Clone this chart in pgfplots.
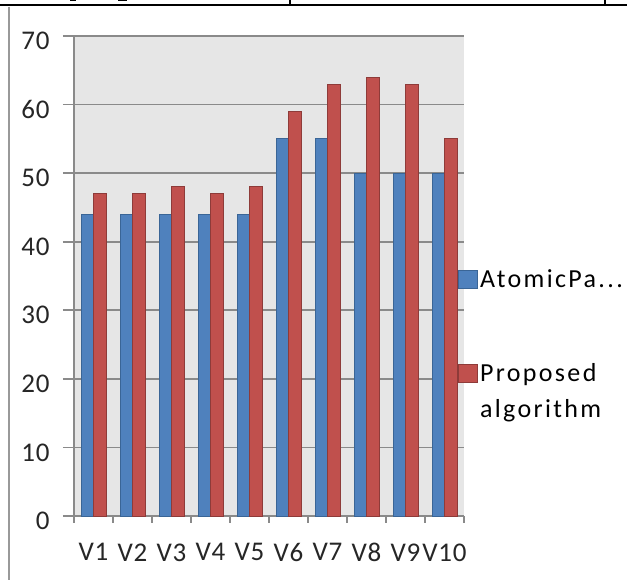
\documentclass[border=0pt]{standalone}
\usepackage{fontspec}
\setmainfont{Carlito}
\newfontfamily\legfont{Carlito}[LetterSpace=9]
\newfontfamily\tickfont{Carlito}[LetterSpace=3]
\usepackage{pgfplots}
\pgfplotsset{compat=1.18}
\definecolor{xlblue}{HTML}{4F81BD}
\definecolor{xlblueedge}{HTML}{3A6596}
\definecolor{xlred}{HTML}{C0504D}
\definecolor{xlrededge}{HTML}{8E3B39}
\definecolor{plotbg}{HTML}{E6E6E6}
\definecolor{gridgray}{HTML}{8A8A8A}
\pgfplotsset{
  legA/.style={legend image code/.code={\draw[fill=xlblue, draw=xlblueedge, line width=0.8pt] (0pt,-9pt) rectangle (19pt,9pt);}},
  legB/.style={legend image code/.code={\draw[fill=xlred, draw=xlrededge, line width=0.8pt] (0pt,9pt) rectangle (19pt,27pt);}},
}
\begin{document}
\begin{tikzpicture}[x=1pt,y=1pt]
\useasboundingbox (0,0) rectangle (627,583);
% page/table border fragments
\draw[line width=2.2pt] (0,578) -- (627,578);
\draw[line width=1.6pt] (290,578) -- (290,583);
\draw[line width=1.6pt] (605,578) -- (605,583);
\draw[line width=1.6pt] (70,582.5) -- (76,582.5);
\draw[line width=1.6pt] (118,582.5) -- (127,582.5);
\draw[gray!80, line width=1.4pt] (9,576) -- (9,3);
\begin{axis}[
  at={(74pt,67pt)}, anchor=south west,
  scale only axis, width=390pt, height=480pt,
  ymin=0, ymax=70, ytick={0,10,...,70},
  xmin=0.5, xmax=10.5,
  xtick={1,...,10},
  xticklabels={V1,V2,V3,V4,V5,V6,V7,V8,V9,V10},
  minor xtick={0.5,1.5,...,10.5},
  axis x line*=bottom, axis y line*=left,
  axis line style={gridgray, line width=1.6pt, -},
  axis background/.style={fill=plotbg},
  ymajorgrids, grid style={gridgray, line width=1.6pt},
  tick align=outside,
  major tick length=11pt, minor tick length=7pt,
  major x tick style={draw=none},
  minor x tick style={gridgray, line width=1.6pt},
  major y tick style={gridgray, line width=1.6pt},
  ticklabel style={font=\tickfont\fontsize{27}{30}\selectfont, text=black!85},
  /pgf/number format/assume math mode=true,
  yticklabel style={xshift=-10pt, yshift=-5pt},
  xticklabel style={yshift=-13pt},
  ybar=0pt, bar width=12.5pt,
  legend style={draw=none, fill=none, at={(0.985,0.517)}, anchor=north west,
    font=\legfont\fontsize{26}{36}\selectfont, row sep=70pt,
    cells={anchor=west, align=left}, inner sep=0pt},
  legend cell align=left,
  clip=false,
]
\addplot[fill=xlblue, draw=xlblueedge, line width=0.8pt, legA]
  coordinates {(1,44) (2,44) (3,44) (4,44) (5,44) (6,55) (7,55) (8,50) (9,50) (10,50)};
\addlegendentry{AtomicPa...}
\addplot[fill=xlred, draw=xlrededge, line width=0.8pt, legB]
  coordinates {(1,47) (2,47) (3,48) (4,47) (5,48) (6,59) (7,63) (8,64) (9,63) (10,55)};
\addlegendentry{Proposed\\algorithm}
\end{axis}
\end{tikzpicture}
\end{document}
